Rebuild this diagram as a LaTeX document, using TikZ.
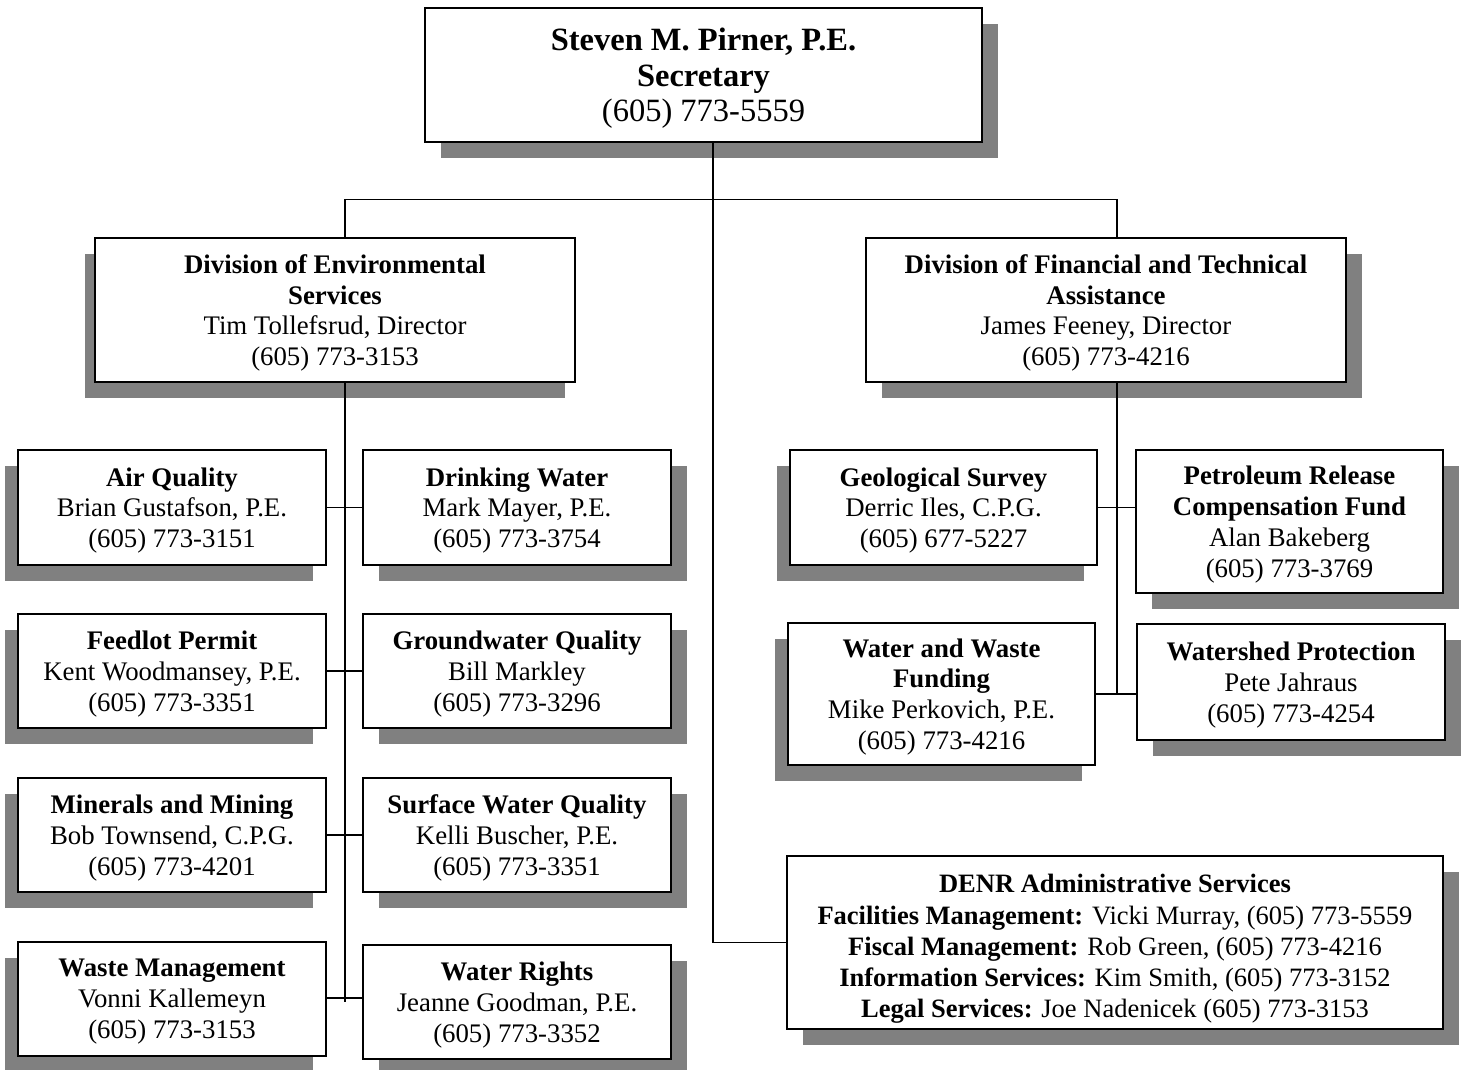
\documentclass[tikz,border=0pt]{standalone}
\usepackage{fontspec}
\setmainfont{Liberation Serif}
\usetikzlibrary{shadows}
\definecolor{shadowgray}{HTML}{808080}
\tikzset{
  box/.style={draw=black, line width=1.6pt, fill=white, rectangle, inner sep=0pt, align=center,
    text depth=0pt, font=\fontsize{26.8}{30.8}\selectfont},
  shR/.style={drop shadow={shadow xshift=16pt, shadow yshift=-16pt, fill=shadowgray, opacity=1}},
  shL/.style={drop shadow={shadow xshift=-13pt, shadow yshift=-16pt, fill=shadowgray, opacity=1}},
  shLL/.style={drop shadow={shadow xshift=-10pt, shadow yshift=-16pt, fill=shadowgray, opacity=1}},
  sz/.style 2 args={minimum width=#1pt, minimum height=#2pt},
  conn/.style={draw=black, line width=1.4pt},
}
\begin{document}
\begin{tikzpicture}[x=1pt,y=-1pt]
\useasboundingbox[fill=white] (0,0) rectangle (1465,1070);

\node[box, shR, sz={557}{134}, font=\fontsize{32.5}{35.5}\selectfont] (sec) at (703.5,75)
  {\textbf{Steven M. Pirner, P.E.}\\\textbf{Secretary}\\(605) 773-5559};

\node[box, shLL, sz={480}{144}] (env) at (335,310)
  {\textbf{Division of Environmental}\\\textbf{Services}\\Tim Tollefsrud, Director\\(605) 773-3153};
\node[box, shR, sz={480}{144}] (fin) at (1106,310)
  {\textbf{Division of Financial and Technical}\\\textbf{Assistance}\\James Feeney, Director\\(605) 773-4216};

\node[box, shL, sz={308}{115}] (air) at (172,507.5)
  {\textbf{Air Quality}\\Brian Gustafson, P.E.\\(605) 773-3151};
\node[box, shR, sz={308}{115}] (drink) at (517,507.5)
  {\textbf{Drinking Water}\\Mark Mayer, P.E.\\(605) 773-3754};
\node[box, shL, sz={308}{114}] (feed) at (172,671)
  {\textbf{Feedlot Permit}\\Kent Woodmansey, P.E.\\(605) 773-3351};
\node[box, shR, sz={308}{114}] (ground) at (517,671)
  {\textbf{Groundwater Quality}\\Bill Markley\\(605) 773-3296};
\node[box, shL, sz={308}{114}] (mine) at (172,835)
  {\textbf{Minerals and Mining}\\Bob Townsend, C.P.G.\\(605) 773-4201};
\node[box, shR, sz={308}{114}] (surf) at (517,835)
  {\textbf{Surface Water Quality}\\Kelli Buscher, P.E.\\(605) 773-3351};
\node[box, shL, sz={308}{114}] (waste) at (172,999)
  {\textbf{Waste Management}\\Vonni Kallemeyn\\(605) 773-3153};
\node[box, shR, sz={308}{114}] (rights) at (517,1002)
  {\textbf{Water Rights}\\Jeanne Goodman, P.E.\\(605) 773-3352};

\node[box, shL, sz={307}{115}] (geo) at (943.5,507.5)
  {\textbf{Geological Survey}\\Derric Iles, C.P.G.\\(605) 677-5227};
\node[box, shR, sz={307}{143}] (petro) at (1289.5,521.5)
  {\textbf{Petroleum Release}\\\textbf{Compensation Fund}\\Alan Bakeberg\\(605) 773-3769};
\node[box, shL, sz={307}{142}] (wwf) at (941.5,694)
  {\textbf{Water and Waste}\\\textbf{Funding}\\Mike Perkovich, P.E.\\(605) 773-4216};
\node[box, shR, sz={308}{116}] (wshed) at (1291,682)
  {\textbf{Watershed Protection}\\Pete Jahraus\\(605) 773-4254};

\node[box, shR, sz={656}{173}] (denr) at (1115,942.5) {};
\node[align=center, font=\fontsize{26.5}{31.2}\selectfont, inner sep=0pt] (denrtext) at (1115,949)
  {\textbf{DENR Administrative Services}\\
   \textbf{Facilities Management:} Vicki Murray, (605) 773-5559\\
   \textbf{Fiscal Management:} Rob Green, (605) 773-4216\\
   \textbf{Information Services:} Kim Smith, (605) 773-3152\\
   \textbf{Legal Services:} Joe Nadenicek (605) 773-3153};

% connectors
\draw[conn] ([xshift=9.5pt]sec.south) -- ([xshift=9.5pt]sec.south |- denr.west) -- (denr.west);
\draw[conn] ([xshift=10pt]env.north) -- ++(0,-38) -| ([xshift=11pt]fin.north);
\draw[conn] ([xshift=10pt]env.south) -- ([xshift=10pt]env.south |- rights.west);
\draw[conn] ([xshift=11pt]fin.south) -- ([xshift=11pt]fin.south |- wwf.east);
\draw[conn] (air.east) -- (drink.west);
\draw[conn] (feed.east) -- (ground.west);
\draw[conn] (mine.east) -- (surf.west);
\draw[conn] ([yshift=1pt]waste.east) -- ([yshift=1pt]rights.west |- waste.east);
\draw[conn] (geo.east) -- (petro.west |- geo.east);
\draw[conn] (wwf.east) -- (wshed.west |- wwf.east);
\end{tikzpicture}
\end{document}
